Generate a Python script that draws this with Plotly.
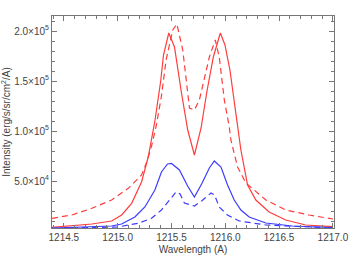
import plotly.graph_objects as go

# Red solid
red_solid_wl = [1214.39, 1214.574, 1214.76, 1214.944, 1215.037, 1215.13, 1215.222, 1215.284, 1215.346, 1215.40,
                1215.426, 1215.475, 1215.528, 1215.59, 1215.651, 1215.713, 1215.775, 1215.83, 1215.889, 1215.954,
                1215.997, 1216.043, 1216.083, 1216.114, 1216.145, 1216.207, 1216.284, 1216.407, 1216.562, 1216.747, 1217.0]
red_solid_int = [3.7e3, 5e3, 7e3, 10e3, 16e3, 27.7e3, 49e3, 74e3, 110e3, 150e3,
                 176e3, 198e3, 184e3, 140e3, 101e3, 76e3, 103e3, 140e3, 174e3, 198e3,
                 186e3, 161e3, 128e3, 103e3, 81e3, 46e3, 31e3, 19e3, 11e3, 6e3, 4.3e3]

# Red dashed
red_dash_wl = [1214.39, 1214.574, 1214.76, 1214.944, 1215.099, 1215.222, 1215.27, 1215.315, 1215.358, 1215.407,
               1215.45, 1215.512, 1215.55, 1215.605, 1215.667, 1215.713, 1215.759, 1215.852, 1215.907, 1215.944,
               1215.991, 1216.037, 1216.052, 1216.114, 1216.191, 1216.377, 1216.562, 1216.778, 1217.0]
red_dash_int = [12.7e3, 16e3, 22.7e3, 31e3, 42.7e3, 56e3, 69e3, 85e3, 105e3, 135e3,
                171e3, 201e3, 207e3, 181e3, 123e3, 121e3, 131e3, 174e3, 191e3, 174e3,
                131e3, 104e3, 91e3, 64e3, 48e3, 31e3, 21e3, 16e3, 12e3]

# Blue solid
blue_solid_wl = [1214.39, 1214.944, 1215.037, 1215.16, 1215.253, 1215.346, 1215.407, 1215.463, 1215.50, 1215.574,
                 1215.65, 1215.713, 1215.78, 1215.852, 1215.898, 1215.96, 1216.021, 1216.083, 1216.145, 1216.222,
                 1216.377, 1216.623, 1217.0]
blue_solid_int = [3e3, 5e3, 7e3, 14e3, 24e3, 41e3, 59e3, 67e3, 67.5e3, 61e3,
                  45e3, 34e3, 47e3, 63e3, 70e3, 64e3, 46e3, 31e3, 21e3, 14e3,
                  8e3, 5e3, 3.5e3]

# Blue dashed
blue_dash_wl = [1214.39, 1215.0, 1215.19, 1215.315, 1215.407, 1215.5, 1215.543, 1215.58, 1215.62, 1215.713,
                1215.78, 1215.867, 1215.9, 1215.944, 1216.02, 1216.13, 1216.377, 1217.0]
blue_dash_int = [2.7e3, 4e3, 7.7e3, 12.7e3, 21e3, 34e3, 39e3, 37e3, 28e3, 25e3,
                 30e3, 38e3, 36e3, 24e3, 16e3, 10e3, 6e3, 3e3]

x_tickvals = [1214.5, 1215.0, 1215.5, 1216.0, 1216.5, 1217.0]
x_ticktext = ["1214.5", "1215.0", "1215.5", "1216.0", "1216.5", "1217.0"]
y_tickvals = [5e4, 1e5, 1.5e5, 2e5]
y_ticktext = ["5.0×10<sup>4</sup>", "1.0×10<sup>5</sup>", "1.5×10<sup>5</sup>", "2.0×10<sup>5</sup>"]

RED = "rgb(255,60,60)"
BLUE = "rgb(60,60,255)"
DASH = "6px,4px"
FONT = "Liberation Sans, Arial, sans-serif"

fig = go.Figure()
fig.add_trace(go.Scatter(x=red_solid_wl, y=red_solid_int, mode="lines", line=dict(color=RED, width=1.2)))
fig.add_trace(go.Scatter(x=red_dash_wl, y=red_dash_int, mode="lines", line=dict(color=RED, width=1.2, dash=DASH)))
fig.add_trace(go.Scatter(x=blue_solid_wl, y=blue_solid_int, mode="lines", line=dict(color=BLUE, width=1.2)))
fig.add_trace(go.Scatter(x=blue_dash_wl, y=blue_dash_int, mode="lines", line=dict(color=BLUE, width=1.2, dash=DASH)))

axis_common = dict(
    showline=True, linecolor="#777", linewidth=1, mirror="allticks",
    ticks="inside", ticklen=5, tickcolor="#777", tickwidth=1,
    showgrid=False, zeroline=False, automargin=False,
    tickfont=dict(family=FONT, size=10, color="#444"),
)

fig.update_layout(
    width=349, height=262,
    autosize=False,
    margin=dict(l=52, r=15, t=16, b=34, pad=0),
    paper_bgcolor="white", plot_bgcolor="white",
    showlegend=False,
    font=dict(family=FONT, size=10, color="#444"),
    xaxis=dict(range=[1214.39, 1217.01], tickvals=x_tickvals, ticktext=x_ticktext,
               title=dict(text="Wavelength (A)", standoff=3, font=dict(size=10, color="#444")),
               minor=dict(ticks="inside", ticklen=3, dtick=0.1, tick0=1214.5, tickcolor="#777", showgrid=False),
               **axis_common),
    yaxis=dict(range=[3000, 215000], tickvals=y_tickvals, ticktext=y_ticktext,
               title=dict(text="Intensity (erg/s/sr/cm<sup>2</sup>/A)", standoff=3, font=dict(size=10, color="#444")),
               minor=dict(ticks="inside", ticklen=3, dtick=1e4, tick0=0, tickcolor="#777", showgrid=False),
               **axis_common),
)

fig.write_html("out.html", config={"displayModeBar": False, "responsive": False},
               post_script="document.body.style.margin='0';document.body.style.overflow='hidden';")
